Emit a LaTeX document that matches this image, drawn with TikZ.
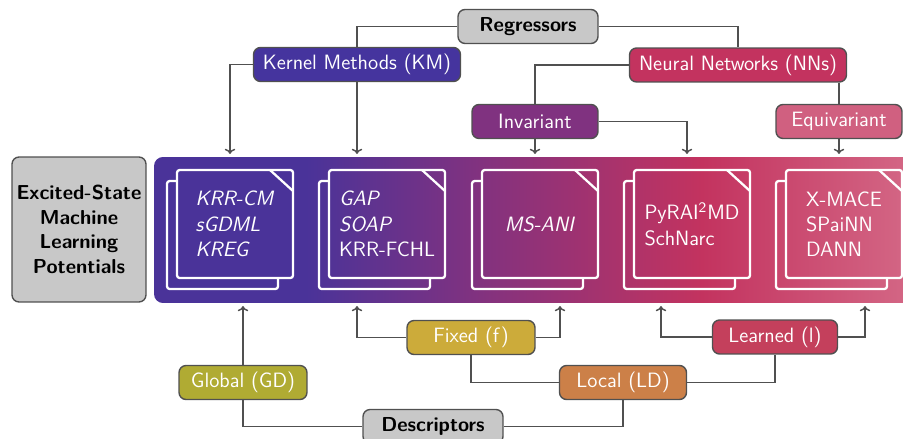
\documentclass[tikz,border=0pt]{standalone}
\usepackage{tikz}
\usetikzlibrary{arrows.meta}

\definecolor{linegray}{RGB}{80,80,80}
\definecolor{boxgray}{RGB}{200,200,200}
\definecolor{kmblue}{RGB}{69,52,158}
\definecolor{nnred}{RGB}{195,51,95}
\definecolor{invpurple}{RGB}{128,50,128}
\definecolor{equipink}{RGB}{208,96,128}
\definecolor{fixgold}{RGB}{204,171,58}
\definecolor{globolive}{RGB}{176,171,51}
\definecolor{locorange}{RGB}{204,128,72}
\definecolor{lrnred}{RGB}{196,64,92}
\definecolor{bandA}{RGB}{74,51,153}
\definecolor{bandB}{RGB}{128,50,128}
\definecolor{bandC}{RGB}{195,51,95}
\definecolor{bandD}{RGB}{212,104,134}

\pgfdeclarehorizontalshading{bandgrad}{100bp}{color(0bp)=(bandA); color(35bp)=(bandA);
  color(46bp)=(bandB); color(61bp)=(bandC); color(75bp)=(bandD); color(100bp)=(bandD)}

\begin{document}
\begin{tikzpicture}[
		x=0.02cm, y=-0.02cm,
		every node/.style={font=\sffamily\fontsize{11.8}{14.4}\selectfont},
		box/.style={draw=linegray, line width=0.8pt, rounded corners=4pt, text=white, minimum height=0.68cm, inner sep=0pt},
		greybox/.style={box, fill=boxgray, text=black, font=\sffamily\bfseries\fontsize{11.5}{14}\selectfont},
		conn/.style={draw=linegray, line width=0.85pt},
		arr/.style={conn, -{To[length=3pt,width=6pt]}},
		cardline/.style={draw=white, line width=1.3pt, rounded corners=1.5pt},
		cardtext/.style={text=white, align=left}
		]
		\useasboundingbox (0,0) rectangle (903,439);
		
		% ---- band with the model cards ----
		\node[shade, shading=bandgrad, rounded corners=5pt, minimum width=15.22cm, minimum height=2.92cm, inner sep=0pt] (band) at (534.5,230) {};
		\node[greybox, minimum width=2.68cm, minimum height=2.9cm, align=center] (esmlp) at (79,229.5) {Excited-State\\Machine\\Learning\\Potentials};
		
		\foreach \cx/\ctext [count=\i] in {
			177/{\textit{KRR-CM}\\\textit{sGDML}\\\textit{KREG}},
			329/{\textit{GAP}\\\textit{SOAP}\\KRR-FCHL},
			482/{\textit{MS-ANI}},
			634/{PyRAI\textsuperscript{2}MD\\SchNarc},
			786/{X-MACE\\SPaiNN\\DANN}} {
			\draw[cardline] (\cx,181) -- (\cx-10,181) -- (\cx-10,289) -- (\cx+101,289) -- (\cx+101,278);
			\draw[cardline] (\cx,170) rectangle (\cx+116,278);
			\draw[cardline, rounded corners=0pt] (\cx+93,170) -- (\cx+116,191);
			\node[cardtext] (card\i) at (\cx+58,224) {\ctext};
		}
		
		% ---- regressors ----
		\node[greybox, minimum width=2.8cm] (reg) at (528,26.5) {Regressors};
		\node[box, fill=kmblue, minimum width=4.14cm] (km) at (357,64.5) {Kernel Methods (KM)};
		\node[box, fill=nnred, minimum width=4.34cm] (nn) at (738,65) {Neural Networks (NNs)};
		\node[box, fill=invpurple, minimum width=2.52cm] (inv) at (535,121.5) {Invariant};
		\node[box, fill=equipink, minimum width=2.52cm] (equi) at (839,121.5) {Equivariant};
		
		\coordinate (kmL) at (230,154);
		\coordinate (invR) at (687,154);
		
		\draw[conn] (reg.west) -| (km.north);
		\draw[conn] (reg.east) -| (nn.north);
		\draw[arr] (km.west) -| (kmL);
		\draw[arr] (km.south) -- (km.south |- kmL);
		\draw[conn] (nn.west) -| (inv.north);
		\draw[conn] (nn.south -| equi.north) -- (equi.north);
		\draw[arr] (inv.south) -- (inv.south |- kmL);
		\draw[arr] (inv.east) -| (invR);
		\draw[arr] (equi.south) -- (equi.south |- kmL);
		
		% ---- descriptors ----
		\node[box, fill=fixgold, minimum width=2.56cm] (fix) at (471,337.5) {Fixed (f)};
		\node[box, fill=lrnred, minimum width=2.5cm] (lrn) at (775,337) {Learned (l)};
		\node[box, fill=locorange, minimum width=2.54cm] (loc) at (623,382.5) {Local (LD)};
		\node[box, fill=globolive, minimum width=2.56cm] (glob) at (243,382.5) {Global (GD)};
		\node[greybox, minimum width=2.8cm] (desc) at (433,426.5) {Descriptors};
		
		\coordinate (fixL) at (357,306);
		\coordinate (fixR) at (560,306);
		\coordinate (lrnL) at (661,306);
		\coordinate (lrnR) at (865,306);
		
		\draw[arr] (glob.north) -- (glob.north |- fixL);
		\draw[arr] (fix.west) -| (fixL);
		\draw[arr] (fix.east) -| (fixR);
		\draw[arr] (lrn.west) -| (lrnL);
		\draw[arr] (lrn.east) -| (lrnR);
		\draw[conn] (loc.west) -| (fix.south);
		\draw[conn] (loc.east) -| (lrn.south);
		\draw[conn] (desc.east) -| (loc.south);
		\draw[conn] (desc.west) -| (glob.south);
		
	\end{tikzpicture}
\end{document}
